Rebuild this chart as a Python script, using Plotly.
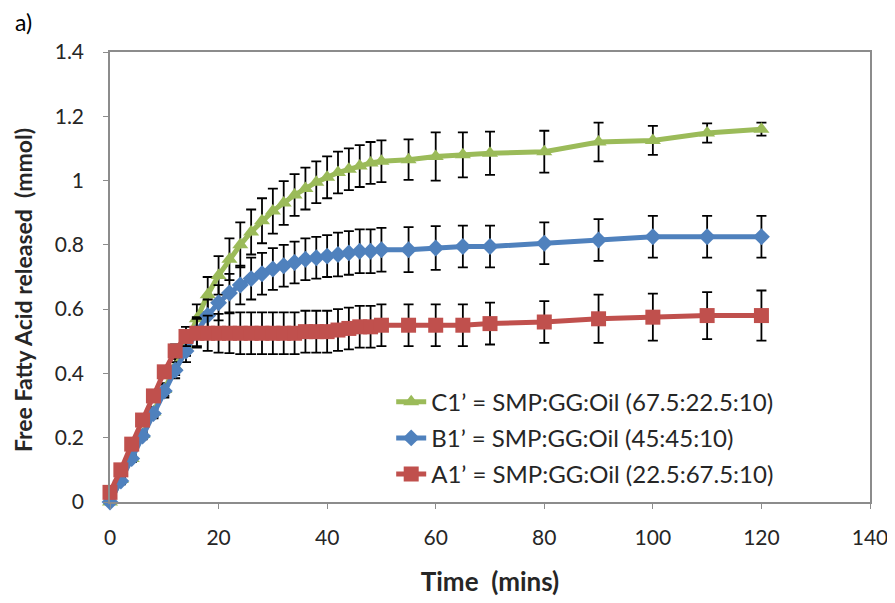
import plotly.graph_objects as go

# sampling times (mins)
time_min = [0, 2, 4, 6, 8, 10, 12, 14, 16, 18, 20, 22, 24, 26, 28, 30, 32, 34, 36, 38,
            40, 42, 44, 46, 48, 50, 55, 60, 65, 70, 80, 90, 100, 110, 120]

# C1' = SMP:GG:Oil (67.5:22.5:10)
c1_ffa = [0.0, 0.07, 0.135, 0.21, 0.28, 0.35, 0.42, 0.49, 0.57, 0.645, 0.705, 0.755, 0.80, 0.84,
          0.875, 0.905, 0.93, 0.955, 0.975, 0.995, 1.01, 1.025, 1.035, 1.045, 1.055, 1.06,
          1.065, 1.075, 1.08, 1.085, 1.09, 1.12, 1.125, 1.148, 1.16]
c1_err = [0.005, 0.01, 0.01, 0.01, 0.015, 0.02, 0.025, 0.035, 0.045, 0.055, 0.06, 0.065, 0.07,
          0.07, 0.07, 0.07, 0.068, 0.065, 0.065, 0.065, 0.065, 0.065, 0.065, 0.065, 0.065, 0.065,
          0.063, 0.075, 0.07, 0.067, 0.065, 0.06, 0.045, 0.03, 0.02]

# B1' = SMP:GG:Oil (45:45:10)
b1_ffa = [0.0, 0.065, 0.135, 0.205, 0.275, 0.345, 0.41, 0.47, 0.53, 0.58, 0.62, 0.65, 0.675,
          0.695, 0.71, 0.725, 0.735, 0.745, 0.755, 0.76, 0.765, 0.77, 0.775, 0.78, 0.78, 0.785,
          0.785, 0.79, 0.795, 0.795, 0.805, 0.815, 0.825, 0.825, 0.825]
b1_err = [0.005, 0.01, 0.01, 0.01, 0.015, 0.02, 0.025, 0.035, 0.045, 0.05, 0.055, 0.06, 0.06,
          0.065, 0.065, 0.065, 0.065, 0.065, 0.065, 0.065, 0.065, 0.068, 0.068, 0.068, 0.068,
          0.068, 0.07, 0.068, 0.065, 0.065, 0.065, 0.065, 0.065, 0.065, 0.065]

# A1' = SMP:GG:Oil (22.5:67.5:10)
a1_ffa = [0.03, 0.10, 0.18, 0.255, 0.33, 0.405, 0.47, 0.515, 0.525, 0.525, 0.525, 0.525, 0.525,
          0.525, 0.525, 0.525, 0.525, 0.525, 0.53, 0.53, 0.53, 0.535, 0.54, 0.545, 0.545, 0.55,
          0.55, 0.55, 0.55, 0.555, 0.56, 0.57, 0.575, 0.58, 0.58]
a1_err = [0.005, 0.01, 0.01, 0.01, 0.01, 0.015, 0.02, 0.03, 0.045, 0.055, 0.06, 0.062, 0.065,
          0.065, 0.065, 0.065, 0.065, 0.065, 0.065, 0.065, 0.065, 0.065, 0.065, 0.065, 0.065,
          0.065, 0.065, 0.065, 0.065, 0.065, 0.065, 0.075, 0.073, 0.073, 0.078]

series = [
    ("C1\u2019 = SMP:GG:Oil (67.5:22.5:10)", c1_ffa, c1_err, "#9BBB59", "triangle-up", 14),
    ("B1\u2019 = SMP:GG:Oil (45:45:10)", b1_ffa, b1_err, "#4F81BD", "diamond", 13),
    ("A1\u2019 = SMP:GG:Oil (22.5:67.5:10)", a1_ffa, a1_err, "#C0504D", "square", 15),
]

fig = go.Figure()
for name, vals, errs, color, symbol, size in series:
    fig.add_trace(
        go.Scatter(
            x=time_min,
            y=vals,
            name=name,
            legendgroup=name,
            mode="lines+markers",
            line=dict(color=color, width=5),
            marker=dict(symbol=symbol, size=size, color=color, line=dict(width=0)),
            error_y=dict(type="data", array=errs, visible=True, color="black", thickness=1.8, width=5),
            cliponaxis=False,
        )
    )

text_color = "#262626"
axis_color = "#8c8c8c"

fig.update_layout(
    width=895,
    height=603,
    paper_bgcolor="white",
    plot_bgcolor="white",
    font=dict(family="Lato", size=21, color=text_color),
    margin=dict(l=102, r=33, t=44, b=109),
    showlegend=True,
    legend=dict(
        x=0.37, y=0.272, xanchor="left", yanchor="top",
        bgcolor="rgba(0,0,0,0)", font=dict(size=24, color=text_color),
        traceorder="grouped", tracegroupgap=2,
    ),
    annotations=[
        dict(
            text="a)", xref="paper", yref="paper", x=-0.127, y=1.067,
            xanchor="left", yanchor="middle", showarrow=False,
            font=dict(size=23, color="black"),
        ),
        # y-axis title, sits a little below the plot centre as in the original
        dict(
            text="<b>Free Fatty Acid released\u00a0 (mmol)</b>", xref="paper", yref="paper",
            x=-0.1145, y=0.471, xanchor="center", yanchor="middle", textangle=-90,
            showarrow=False, font=dict(size=23, color=text_color),
        ),
    ],
)
fig.update_xaxes(
    range=[0, 140], dtick=20, showgrid=False, zeroline=False,
    showline=True, linecolor=axis_color, linewidth=1.5, mirror=True,
    ticks="outside", ticklen=5, tickcolor=axis_color, ticklabelstandoff=11,
    title=dict(text="<b>Time\u00a0 (mins)</b>", standoff=25, font=dict(size=26)),
)
fig.update_yaxes(
    range=[0, 1.4], dtick=0.2, showgrid=False, zeroline=False,
    showline=True, linecolor=axis_color, linewidth=1.5, mirror=True,
    ticks="outside", ticklen=5, tickcolor=axis_color, ticklabelstandoff=15,
)

fig.write_html("out.html")
